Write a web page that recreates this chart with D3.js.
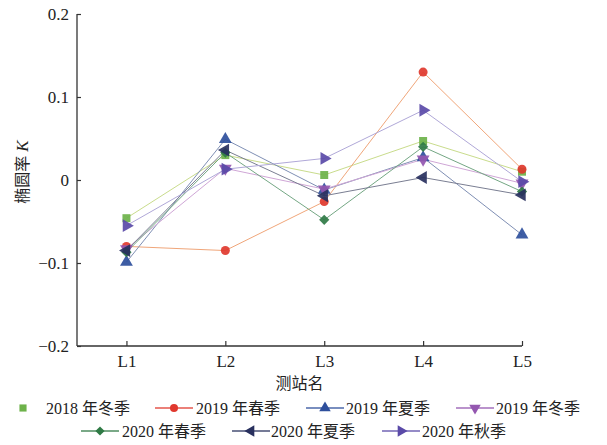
<!DOCTYPE html>
<html>
<head>
<meta charset="utf-8">
<script src="https://cdn.jsdelivr.net/npm/d3@7"></script>
<style>
  html, body { margin: 0; padding: 0; background: #fff; }
  svg { display: block; }
</style>
</head>
<body>
<svg id="chart" width="607" height="445"></svg>
<script>
// Station names along the x axis
const categories = ["L1", "L2", "L3", "L4", "L5"];

// Ellipticity K per season, one value per station
const k2018Winter = [-0.046, 0.030, 0.006, 0.047, 0.010];
const k2019Spring = [-0.080, -0.085, -0.026, 0.130, 0.013];
const k2019Summer = [-0.099, 0.049, -0.012, 0.027, -0.066];
const k2019Winter = [-0.083, 0.014, -0.011, 0.025, -0.004];
const k2020Spring = [-0.087, 0.033, -0.048, 0.040, -0.014];
const k2020Summer = [-0.085, 0.036, -0.019, 0.003, -0.018];
const k2020Autumn = [-0.055, 0.013, 0.026, 0.084, -0.002];

const seriesNames = ["2018 年冬季", "2019 年春季", "2019 年夏季", "2019 年冬季",
                     "2020 年春季", "2020 年夏季", "2020 年秋季"];
const yTicks = [-0.2, -0.1, 0, 0.1, 0.2];

const series = [
  { name: seriesNames[0], values: k2018Winter, shape: "square",  fill: "#6db24a", line: "#c9dc8c", legendLine: false },
  { name: seriesNames[1], values: k2019Spring, shape: "circle",  fill: "#e0382e", line: "#f0a67a", legendLine: true },
  { name: seriesNames[2], values: k2019Summer, shape: "up",      fill: "#2e4f9c", line: "#7f8fb4", legendLine: true },
  { name: seriesNames[3], values: k2019Winter, shape: "down",    fill: "#9457b0", line: "#cfa6d6", legendLine: true },
  { name: seriesNames[4], values: k2020Spring, shape: "diamond", fill: "#2f7a45", line: "#74a784", legendLine: true },
  { name: seriesNames[5], values: k2020Summer, shape: "left",    fill: "#28305e", line: "#7a7e92", legendLine: true },
  { name: seriesNames[6], values: k2020Autumn, shape: "right",   fill: "#5a4aa8", line: "#b0a8d8", legendLine: true }
];

const svg = d3.select("#chart");
const serif = "'Liberation Serif', 'Times New Roman', serif";
const cjk = "'Liberation Serif', 'Noto Sans CJK SC', serif";

const x = d3.scaleLinear().domain([0.5, 5]).range([77, 522]);
const y = d3.scaleLinear().domain([-0.2, 0.2]).range([346, 14]);
const xPos = (i) => x(i + 1);

// Marker path generator
function markerPath(shape, s) {
  const tri = d3.symbol().type(d3.symbolTriangle).size(s * 0.95)();
  switch (shape) {
    case "square":  return { d: d3.symbol().type(d3.symbolSquare).size(s * 0.85)(), rot: 0 };
    case "circle":  return { d: d3.symbol().type(d3.symbolCircle).size(s * 0.85)(), rot: 0 };
    case "diamond": return { d: d3.symbol().type(d3.symbolSquare).size(s * 0.7)(), rot: 45 };
    case "up":      return { d: tri, rot: 0 };
    case "down":    return { d: tri, rot: 180 };
    case "left":    return { d: tri, rot: -90 };
    case "right":   return { d: tri, rot: 90 };
  }
}
const markerSize = 75;

// Axes
const axisColor = "#333";
const gx = svg.append("g").attr("transform", `translate(0,${y(-0.2)})`);
gx.call(d3.axisBottom(x).tickValues(d3.range(1, 6)).tickSize(-5).tickPadding(9)
  .tickFormat((d) => categories[d - 1]));
gx.select(".domain").attr("stroke", axisColor).attr("stroke-width", 1.3).attr("d", `M${x(0.5)},0H${x(5)}`);
gx.selectAll(".tick line").attr("stroke", axisColor).attr("stroke-width", 1.2);
gx.selectAll(".tick text").attr("font-family", serif).attr("font-size", 17).attr("fill", "#222");

const gy = svg.append("g").attr("transform", `translate(${x(0.5)},0)`);
gy.call(d3.axisLeft(y).tickValues(yTicks).tickSize(-4).tickPadding(8)
  .tickFormat((d) => d === 0 ? "0" : (d < 0 ? "\u2212" + Math.abs(d) : String(d))));
gy.select(".domain").attr("stroke", axisColor).attr("stroke-width", 1.3).attr("d", `M0,${y(0.2)}V${y(-0.2)}`);
gy.selectAll(".tick line").attr("stroke", axisColor).attr("stroke-width", 1.2);
gy.selectAll(".tick text").attr("font-family", serif).attr("font-size", 17).attr("fill", "#222");

// Axis titles
svg.append("text")
  .attr("x", (x(0.5) + x(5)) / 2).attr("y", 389)
  .attr("text-anchor", "middle")
  .attr("font-family", cjk).attr("font-size", 16).attr("fill", "#222")
  .text("测站名");

const yt = svg.append("text")
  .attr("transform", "translate(28,172) rotate(-90)")
  .attr("text-anchor", "middle")
  .attr("font-family", cjk).attr("font-size", 16).attr("fill", "#222");
yt.append("tspan").text("椭圆率 ");
yt.append("tspan").attr("font-style", "italic").attr("font-family", serif).attr("font-size", 17).text("K");

// Lines
const line = d3.line().x((d, i) => xPos(i)).y((d) => y(d));
const plot = svg.append("g");
series.forEach((s) => {
  plot.append("path")
    .attr("d", line(s.values))
    .attr("fill", "none")
    .attr("stroke", s.line)
    .attr("stroke-width", 1);
});

// Markers
series.forEach((s) => {
  const m = markerPath(s.shape, markerSize);
  plot.append("g").selectAll("path").data(s.values).join("path")
    .attr("d", m.d)
    .attr("transform", (d, i) => `translate(${xPos(i)},${y(d)}) rotate(${m.rot})`)
    .attr("fill", s.fill)
    .attr("opacity", 0.92);
});

// Legend
const legendRows = [
  { y: 413, items: [
    { idx: 0, lineX: 13, textX: 46 },
    { idx: 1, lineX: 155, textX: 196 },
    { idx: 2, lineX: 306, textX: 346 },
    { idx: 3, lineX: 456, textX: 496 } ] },
  { y: 436, items: [
    { idx: 4, lineX: 81, textX: 122 },
    { idx: 5, lineX: 232, textX: 271 },
    { idx: 6, lineX: 382, textX: 422 } ] }
];
const legend = svg.append("g");
legendRows.forEach((row) => {
  row.items.forEach((it) => {
    const s = series[it.idx];
    const g = legend.append("g");
    const lw = 38;
    const cx = s.legendLine ? it.lineX + lw / 2 : 23;
    if (s.legendLine) {
      g.append("line")
        .attr("x1", it.lineX).attr("x2", it.lineX + lw)
        .attr("y1", row.y - 5).attr("y2", row.y - 5)
        .attr("stroke", s.fill).attr("stroke-width", 1.6).attr("opacity", 0.85);
    }
    const m = markerPath(s.shape, 60);
    g.append("path")
      .attr("d", m.d)
      .attr("transform", `translate(${cx},${row.y - 5}) rotate(${m.rot})`)
      .attr("fill", s.fill);
    g.append("text")
      .attr("x", it.textX).attr("y", row.y + 1)
      .attr("font-family", cjk).attr("font-size", 16).attr("fill", "#222")
      .text(s.name);
  });
});
</script>
</body>
</html>
